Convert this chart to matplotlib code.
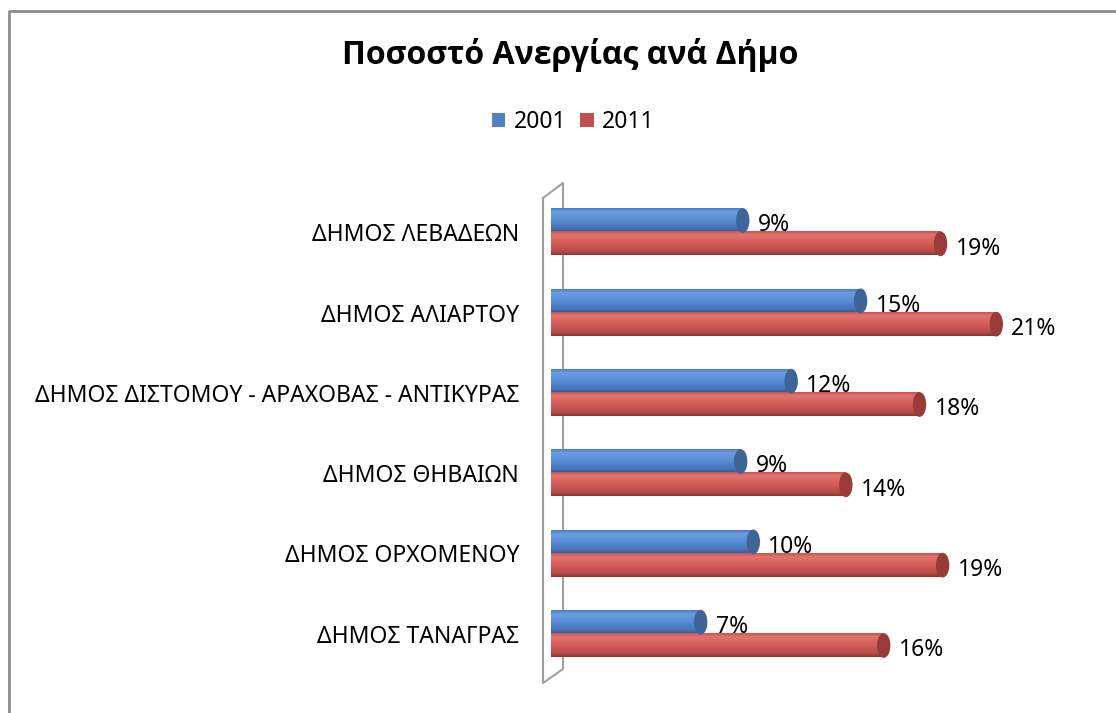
import numpy as np
import matplotlib.pyplot as plt
from matplotlib.patches import Ellipse, Patch
from matplotlib.lines import Line2D
from matplotlib.colors import LinearSegmentedColormap

plt.rcParams['font.family'] = ['Noto Sans', 'DejaVu Sans']

# data, top to bottom as in the chart
municipalities = ['ΔΗΜΟΣ ΛΕΒΑΔΕΩΝ', 'ΔΗΜΟΣ ΑΛΙΑΡΤΟΥ',
                  'ΔΗΜΟΣ ΔΙΣΤΟΜΟΥ - ΑΡΑΧΟΒΑΣ - ΑΝΤΙΚΥΡΑΣ', 'ΔΗΜΟΣ ΘΗΒΑΙΩΝ',
                  'ΔΗΜΟΣ ΟΡΧΟΜΕΝΟΥ', 'ΔΗΜΟΣ ΤΑΝΑΓΡΑΣ']
rate_2001 = [0.094, 0.150, 0.117, 0.093, 0.099, 0.074]
rate_2011 = [0.188, 0.2145, 0.178, 0.143, 0.189, 0.161]
years = ['2001', '2011']

W, H = 1116, 713
fig = plt.figure(figsize=(W / 100, H / 100), dpi=100)


def fx(px):
    return px / W


def fy(py):
    return 1 - py / H


ax = fig.add_axes([fx(551), fy(674), fx(1098) - fx(551), fy(192) - fy(674)])

blue_cmap = LinearSegmentedColormap.from_list('b', [
    (0, '#4c7cc0'), (0.15, '#6b9de0'), (0.45, '#5b8fd6'), (0.85, '#4474b8'), (1, '#34598e')])
red_cmap = LinearSegmentedColormap.from_list('r', [
    (0, '#c85450'), (0.15, '#e27470'), (0.45, '#d65f5b'), (0.85, '#b84a47'), (1, '#8e3432')])
styles = [(blue_cmap, '#3e6498', '#4F81BD'), (red_cmap, '#9a3b39', '#C0504D')]

n = len(municipalities)
ypos = np.arange(n)[::-1]
bh = 0.29
off = 0.145
xmax = 0.26
px_per_unit = (1098 - 551) / xmax
capw = 12 / px_per_unit
grad = np.linspace(0, 1, 64).reshape(-1, 1)

for k, series in enumerate([rate_2001, rate_2011]):
    cmap, cap, _ = styles[k]
    for val, yc in zip(series, ypos + (off if k == 0 else -off)):
        end = val - capw / 2
        ax.imshow(grad, cmap=cmap, extent=[0, end, yc - bh / 2, yc + bh / 2],
                  aspect='auto', origin='upper', zorder=2, interpolation='bilinear')
        ax.add_patch(Ellipse((end, yc), capw, bh, color=cap, zorder=3))
        ax.annotate(f'{val:.0%}', (val, yc), xytext=(6.5, -3.5), textcoords='offset points',
                    ha='left', va='center', fontsize=16.5, color='black')

ax.set_xlim(0, xmax)
ax.set_ylim(-0.5, 5.5)
ax.set_xticks([])
ax.set_yticks(ypos, municipalities, fontsize=16.5)
ax.tick_params(length=0, pad=23)
for s in ax.spines.values():
    s.set_visible(False)
ax.patch.set_visible(False)

# 3D side wall
wall = Line2D([fx(543), fx(543), fx(563), fx(563), fx(543)],
              [fy(198), fy(683), fy(669), fy(183), fy(198)],
              transform=fig.transFigure, color='#a0a0a0', lw=1.5, zorder=1, clip_on=False)
ax.add_artist(wall)

# chart border
fig.add_artist(Line2D([fx(9), fx(9), fx(1116)], [fy(713), fy(11), fy(11)],
                      transform=fig.transFigure, color='#8c8c8c', lw=2))

fig.suptitle('Ποσοστό Ανεργίας ανά Δήμο', x=fx(570), y=fy(55), va='center',
             fontsize=23, fontweight='bold', family=['Open Sans', 'DejaVu Sans'])

handles = [Patch(facecolor=styles[i][2], label=years[i]) for i in range(2)]
fig.legend(handles=handles, loc='center', bbox_to_anchor=(fx(573), fy(122)), ncol=2,
           frameon=False, fontsize=16.5, handlelength=0.6, handleheight=0.6,
           handletextpad=0.35, columnspacing=0.6)

fig.savefig('out.png', dpi=100, facecolor='white')
